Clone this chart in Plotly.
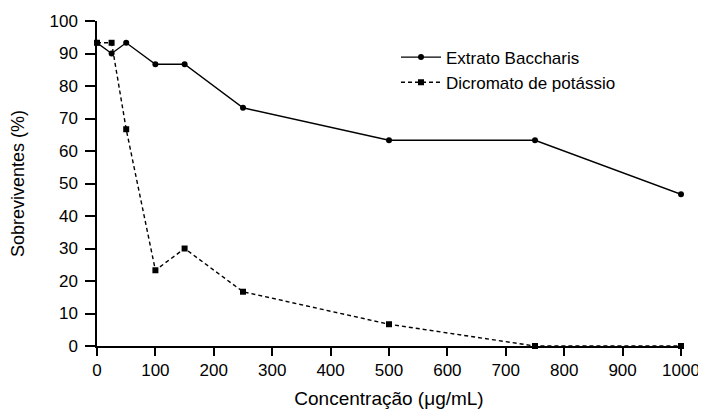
import plotly.graph_objects as go

conc = [0, 25, 50, 100, 150, 250, 500, 750, 1000]
baccharis = [93.3, 90.0, 93.3, 86.7, 86.7, 73.3, 63.3, 63.3, 46.7]
dicromato = [93.3, 93.3, 66.7, 23.3, 30.0, 16.7, 6.7, 0.0, 0.0]
x_ticks = list(range(0, 1001, 100))
y_ticks = list(range(0, 101, 10))

FONT = "Liberation Sans"

fig = go.Figure()
fig.add_trace(go.Scatter(
    x=conc, y=baccharis, mode="lines+markers", name="Extrato Baccharis",
    line=dict(color="black", width=1.4),
    marker=dict(symbol="circle", size=6, color="black"),
    cliponaxis=False,
))
fig.add_trace(go.Scatter(
    x=conc, y=dicromato, mode="lines+markers", name="Dicromato de potássio",
    line=dict(color="black", width=1.4, dash="4px,3px"),
    marker=dict(symbol="square", size=6, color="black"),
    cliponaxis=False,
))

# page body has an 8px margin, so the figure is shrunk and offset accordingly
fig.update_layout(
    width=698, height=405,
    margin=dict(l=89, r=25, t=13, b=67, autoexpand=False),
    paper_bgcolor="white", plot_bgcolor="white",
    font=dict(family=FONT, color="black", size=17),
    showlegend=True,
    legend=dict(
        x=0.512, y=0.943, xanchor="left", yanchor="top",
        bgcolor="rgba(0,0,0,0)", font=dict(size=17, family=FONT),
        itemwidth=40,
    ),
)
fig.update_xaxes(
    range=[0, 1000], tickvals=x_ticks, ticktext=[str(v) for v in x_ticks],
    showgrid=False, zeroline=False, showline=True, linecolor="black", linewidth=1.5,
    ticks="outside", ticklen=8, tickwidth=1.5, tickcolor="black",
    tickfont=dict(size=17, family=FONT), automargin=False,
    title=dict(text="Concentração (μg/mL)", font=dict(size=19, family=FONT), standoff=13),
)
fig.update_yaxes(
    range=[0, 100], tickvals=y_ticks, ticktext=[str(v) for v in y_ticks],
    showgrid=False, zeroline=False, showline=True, linecolor="black", linewidth=1.5,
    ticks="outside", ticklen=10, tickwidth=1.5, tickcolor="black",
    tickfont=dict(size=17, family=FONT), ticklabelstandoff=4, automargin=False,
    title=dict(text="Sobreviventes (%)", font=dict(size=18, family=FONT), standoff=20),
)

fig.write_html("out.html")
